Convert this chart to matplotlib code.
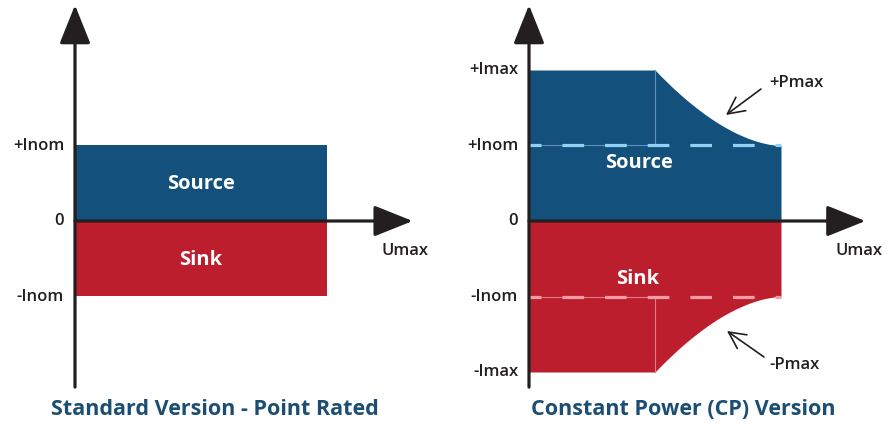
import numpy as np
import matplotlib
matplotlib.use("Agg")
import matplotlib.pyplot as plt

plt.rcParams['font.family'] = ['Open Sans', 'DejaVu Sans']
plt.rcParams['lines.scale_dashes'] = False

# operating area limits (normalised units)
u_max = 2.0          # Umax
u_knee = 1.0         # where constant power starts
i_nom = 1.0
i_max = 2.0

# constant power edge (U, I)
cp_u = [1.00, 1.05, 1.10, 1.15, 1.20, 1.25, 1.30, 1.35, 1.40, 1.45, 1.50,
        1.55, 1.60, 1.65, 1.70, 1.75, 1.80, 1.85, 1.90, 1.95, 2.00]
cp_i = [2.000, 1.914, 1.832, 1.752, 1.677, 1.604, 1.536, 1.471, 1.409, 1.351, 1.297,
        1.247, 1.201, 1.159, 1.122, 1.088, 1.060, 1.036, 1.018, 1.005, 1.000]

std_ticks = ['+Inom', '0', '-Inom']
std_tick_vals = [i_nom, 0, -i_nom]
cp_ticks = ['+Imax', '+Inom', '0', '-Inom', '-Imax']
cp_tick_vals = [i_max, i_nom, 0, -i_nom, -i_max]

titles = ['Standard Version - Point Rated', 'Constant Power (CP) Version']

blue = '#14507c'
red = '#bd1e2e'
dark = '#231f20'
title_col = '#1b4e72'

# pixel scale used to lay out the two panels
PX_U = 126.0
PX_I = 75.5
W, H = 886, 423
Y0 = 221  # pixel row of I = 0

fig = plt.figure(figsize=(W / 100, H / 100), dpi=100)


def make_axes(left_px, origin_px):
    ax = fig.add_axes([left_px / W, 0, 443 / W, 1])
    ax.set_xlim(-(origin_px - left_px) / PX_U, (left_px + 443 - origin_px) / PX_U)
    ax.set_ylim(-(H - Y0) / PX_I, Y0 / PX_I)
    ax.axis('off')
    return ax


def draw_axes(ax, xtip):
    arrow = dict(arrowstyle='-|>,head_length=1.2,head_width=0.48',
                 color=dark, lw=2.3, mutation_scale=20, shrinkA=0, shrinkB=0)
    ax.annotate('', xy=(0, 2.86), xytext=(0, -2.2), arrowprops=arrow, zorder=5)
    ax.annotate('', xy=(xtip, 0), xytext=(0, 0), arrowprops=arrow, zorder=5)
    ax.text(2.62, -0.40, 'Umax', ha='center', va='center', fontsize=12,
            fontweight='semibold', color=dark)


lab = dict(ha='right', va='center', fontsize=12, fontweight='semibold', color=dark)
inner = dict(ha='center', va='center', fontsize=14.5, fontweight='bold', color='white', zorder=6)
ttl = dict(ha='center', va='center', fontsize=15.5, fontweight='bold', color=title_col)

# ---- standard version
ax1 = make_axes(0, 75)
ax1.fill_between([0, u_max], 0, i_nom, color=blue, lw=0)
ax1.fill_between([0, u_max], -i_nom, 0, color=red, lw=0)
draw_axes(ax1, 2.68)
for t, v in zip(std_ticks, std_tick_vals):
    ax1.text(-0.087, v, t, **lab)
ax1.text(1.0, 0.49, 'Source', **inner)
ax1.text(1.0, -0.52, 'Sink', **inner)
ax1.text(1.11, -2.50, titles[0], **ttl)

# ---- constant power version
ax2 = make_axes(443, 529)
src_u = [0] + cp_u
src_i = [i_max] + cp_i
ax2.fill_between(src_u, 0, src_i, color=blue, lw=0)
ax2.fill_between(src_u, [-v for v in src_i], 0, color=red, lw=0)

# thin guide lines at the knee
ax2.plot([u_knee, u_knee], [i_nom, i_max], color='#5f93bd', lw=0.8)
ax2.plot([0, u_knee], [i_nom, i_nom], color='#5f93bd', lw=0.8)
ax2.plot([u_knee, u_knee], [-i_nom, -i_max], color='#e57a84', lw=0.8)
ax2.plot([0, u_knee], [-i_nom, -i_nom], color='#e57a84', lw=0.8)

# dashed nominal current lines
ax2.plot([0, u_max], [i_nom, i_nom], color='#8fd2f4', lw=2.3,
         linestyle=(7, (15.6, 15.1)), dash_capstyle='butt')
ax2.plot([0, u_max], [-i_nom, -i_nom], color='#f19ba3', lw=2.3,
         linestyle=(7, (15.6, 15.1)), dash_capstyle='butt')

draw_axes(ax2, 2.67)
for t, v in zip(cp_ticks, cp_tick_vals):
    ax2.text(-0.087, v, t, **lab)
ax2.text(0.873, 0.77, 'Source', **inner)
ax2.text(0.865, -0.77, 'Sink', **inner)

# power limit callouts
thin = dict(arrowstyle='->,head_length=0.6,head_width=0.3', color=dark, lw=1.2,
            mutation_scale=20, shrinkA=0, shrinkB=0)
ax2.annotate('', xy=(1.563, 1.404), xytext=(1.841, 1.748), arrowprops=thin)
ax2.text(2.119, 1.828, '+Pmax', ha='center', va='center', fontsize=12,
         fontweight='semibold', color=dark)
ax2.annotate('', xy=(1.571, -1.457), xytext=(1.865, -1.801), arrowprops=thin)
ax2.text(2.111, -1.907, '-Pmax', ha='center', va='center', fontsize=12,
         fontweight='semibold', color=dark)
ax2.text(1.222, -2.50, titles[1], **ttl)

fig.savefig('out.png', dpi=100)
